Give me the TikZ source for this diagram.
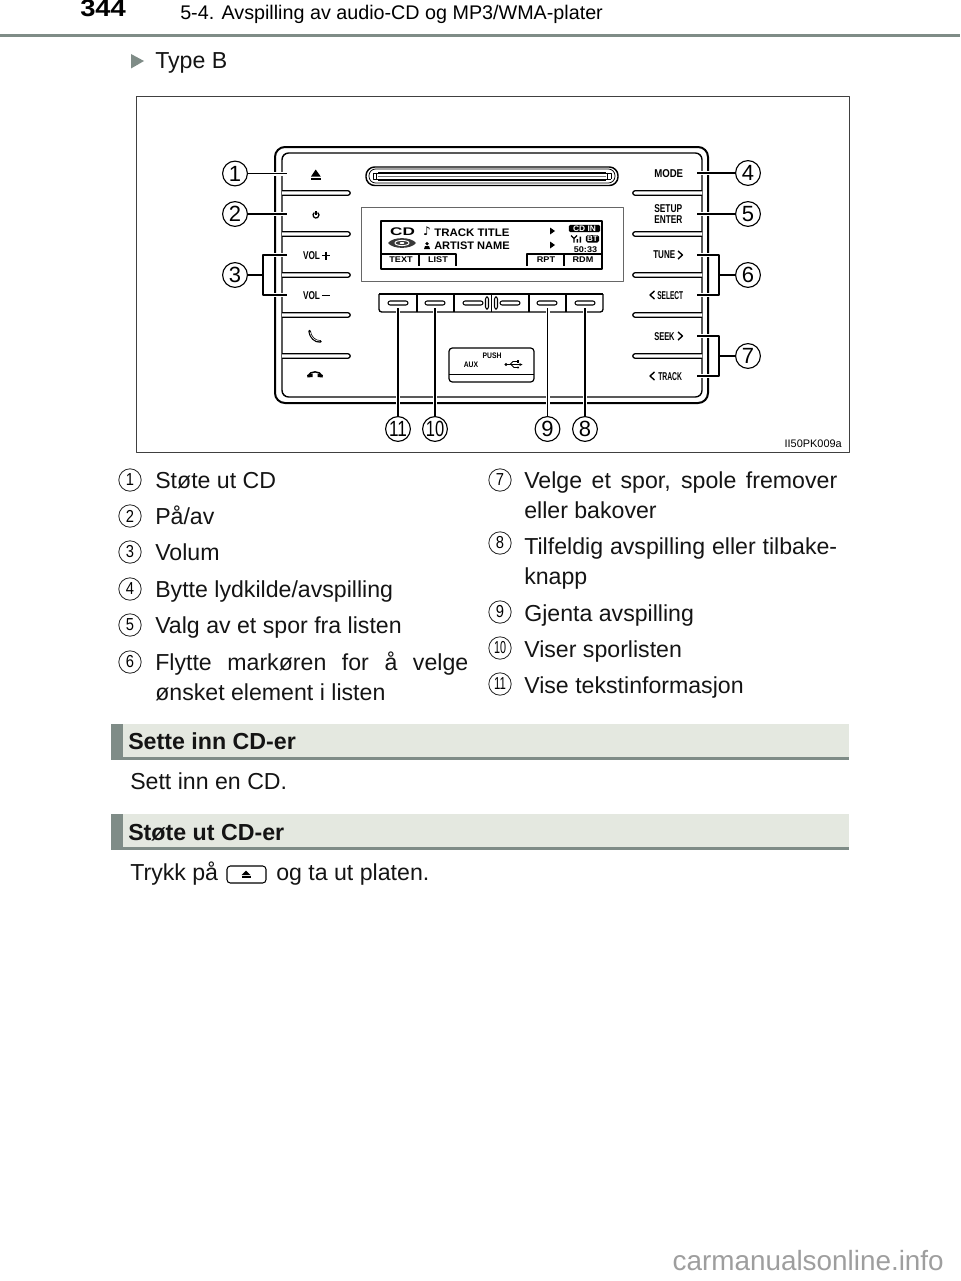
\documentclass[tikz,border=0pt]{standalone}
\usepackage{fontspec}
\setmainfont{Liberation Sans}
\newfontfamily\djv{DejaVu Sans}
\definecolor{bandgrey}{HTML}{7F8C87}
\definecolor{bandfill}{HTML}{E4E8E0}
\newcommand{\fs}[1]{\fontsize{#1}{#1}\selectfont}
\newcommand{\nar}[2]{\scalebox{#1}[1]{#2}}
\tikzset{
  body/.style={font=\fs{17.35},anchor=base west,inner sep=0pt,text=black!92},
  headt/.style={font=\fs{17.4}\bfseries,anchor=base west,inner sep=0pt,text=black!92},
  callout/.style={circle,draw=black,fill=white,line width=0.85pt,minimum size=18.6pt,inner sep=0pt,font=\fs{16.5}},
  listnum/.style={circle,draw=black!85,line width=0.6pt,minimum size=16.8pt,inner sep=0pt,font=\fs{13}},
  leader/.style={draw=black,line width=0.8pt,preaction={draw=white,line width=3pt}},
  plain/.style={draw=black,line width=0.8pt},
  panel/.style={font=\fs{8.5}\bfseries,inner sep=0pt},
  lcd/.style={font=\fs{6.2}\bfseries,inner sep=0pt},
  capsule/.style={draw=black,fill=white,line width=0.8pt,rounded corners=1.6pt}
}
\newcommand{\barL}[1]{\draw[line width=0.95pt,fill=white] (282,#1-2.2) -- (348,#1-2.2) arc (-90:90:2.2) -- (282,#1+2.2);}
\newcommand{\barR}[1]{\draw[line width=0.95pt,fill=white] (702,#1-2.2) -- (635,#1-2.2) arc (270:90:2.2) -- (702,#1+2.2);}
\newcommand{\bandbox}[1]{%
  \fill[bandfill] (112,#1) rectangle (849,#1+35);
  \fill[bandgrey] (111,#1) rectangle (123,#1+35);
  \fill[bandgrey] (111,#1+33) rectangle (849,#1+35.5);
}
\begin{document}
\begin{tikzpicture}[x=0.75pt,y=-0.75pt,line join=round]
\useasboundingbox (0,0) rectangle (960,1281);
% page header
\node[anchor=base west,inner sep=0pt,font=\fs{18}\bfseries] (pageno) at (80,17) {\nar{1.14}{344}};
\node[anchor=base west,inner sep=0pt,font=\fs{14.8}] (runhead) at (180,20) {5-4. Avspilling av audio-CD og MP3/WMA-plater};
\fill[bandgrey] (0,34) rectangle (960,37);
\fill[bandgrey] (131,54) -- (144,61) -- (131,68.5) -- cycle;
\node[body] (typeb) at (155,69) {Type B};
% figure frame
\draw[black!75,line width=0.75pt] (136,97) rectangle (849,452);
% radio body
\draw[line width=1.5pt,rounded corners=7.5pt] (275,147) rectangle (708,403);
\draw[line width=1.05pt,rounded corners=5pt] (282,153) rectangle (702,397);
% slot
\draw[line width=1.1pt,rounded corners=6.5pt] (366,167) rectangle (618,185.5);
\draw[line width=0.6pt,rounded corners=5pt] (369,169) rectangle (615,183);
\draw[line width=1pt] (378,172.7) -- (606,172.7) (378,180) -- (606,180);
\draw[line width=0.7pt] (373,173.5) -- (373,179) -- (611,179) (373,173.5) -- (611,173.5) -- (611,179);
\draw[line width=0.7pt] (376.5,172.7) -- (376.5,180) (607.5,172.7) -- (607.5,180);
\draw[black!55,line width=0.5pt] (378,176.5) -- (606,176.5);
% display
\draw[black!60,line width=0.55pt] (361,207) rectangle (623,281);
\draw[line width=0.95pt] (381,221) rectangle (602,269);
\draw[line width=0.95pt] (381,254) -- (456,254) -- (456,266);
\draw[line width=0.95pt] (419,254) -- (419,266);
\draw[line width=0.95pt] (602,254) -- (527,254) -- (527,266);
\draw[line width=0.95pt] (564,254) -- (564,266);
\node[font=\fs{8.3}\bfseries,inner sep=0pt] (lcdcd) at (402.5,232) {\nar{1.55}{CD}};
\fill[black!78] (388,243) .. controls (393,236.5) and (411,236.5) .. (416,243) .. controls (411,249.5) and (393,249.5) .. cycle;
\draw[white,line width=0.7pt] (402,243) ellipse (7 and 2.6);
\fill[white] (402,243) ellipse (2.5 and 1);
\node[font=\djv\bfseries\fs{9},inner sep=0pt] (lcdnote) at (427,231.5) {♪};
\fill (424,249) -- (425,246) -- (429,246) -- (430,249) -- cycle;
\fill (427,243.7) circle (1.8);
\node[anchor=base west,font=\fs{8.2}\bfseries,inner sep=0pt] (lcdtitle) at (434,236) {\nar{1.05}{TRACK TITLE}};
\node[anchor=base west,font=\fs{8.2}\bfseries,inner sep=0pt] (lcdartist) at (434,249) {\nar{1.01}{ARTIST NAME}};
\fill (550,227.5) -- (555,231) -- (550,234.5) -- cycle;
\fill (550,241.5) -- (555,245) -- (550,248.5) -- cycle;
\node[fill=black,text=white,rounded corners=1.2pt,font=\fs{6}\bfseries,inner sep=0pt,minimum width=23.5pt,minimum height=5.6pt,text height=4pt,text depth=0pt] (lcdcdin) at (584.5,228.5) {\nar{1.05}{CD IN}};
\node[fill=black,text=white,rounded corners=1.2pt,font=\fs{6}\bfseries,inner sep=0pt,minimum width=9.8pt,minimum height=5.6pt,text height=4pt,text depth=0pt] (lcdbt) at (592.5,238.8) {BT};
\draw[line width=0.9pt] (571,235.5) -- (574,238.5) -- (577,235.5) (574,238.5) -- (574,242.5);
\fill (576.5,239) rectangle (578,242.5) (579.5,236.5) rectangle (581,242.5);
\node[font=\fs{6.2}\bfseries,inner sep=0pt] (lcdtime) at (585.5,249.3) {\nar{1.1}{50:33}};
\node[lcd] (ltext) at (401,260) {\nar{1.1}{TEXT}};
\node[lcd] (llist) at (438,260) {\nar{1.1}{LIST}};
\node[lcd] (lrpt) at (546,260) {\nar{1.1}{RPT}};
\node[lcd] (lrdm) at (583,260) {\nar{1.1}{RDM}};
% side bars
\foreach \yy in {193,234,275,315,356}{\barL{\yy}\barR{\yy}}
% left buttons
\fill (311,176.5) -- (315.7,169.5) -- (320.7,176.5) -- cycle;
\fill (311,177.8) rectangle (320.7,180);
\draw[line width=0.95pt] (314.3,212.6) arc (-125:-415:3);
\draw[line width=0.95pt] (316,211) -- (316,215);
\node[panel] (vplus) at (311.5,256) {\nar{0.73}{VOL}};
\draw[line width=1.4pt] (322,255.5) -- (330,255.5) (326,251.5) -- (326,259.5);
\node[panel] (vminus) at (311.5,296) {\nar{0.73}{VOL}};
\draw[line width=1.4pt] (322,295.5) -- (330,295.5);
\draw[line width=1.9pt,line cap=round] (309.5,331) .. controls (310,337) and (315,342) .. (320.5,341.5);
\draw[white,line width=0.45pt,line cap=round] (310,332) .. controls (310.5,337) and (315,341.3) .. (319.5,341);
\draw[line width=1.1pt] (308,376) .. controls (309.5,370.5) and (320.5,370.5) .. (322,376);
\fill (307,375) -- (312.5,373.5) -- (312.5,377) -- (307.5,377.5) -- cycle;
\fill (323,375) -- (317.5,373.5) -- (317.5,377) -- (322.5,377.5) -- cycle;
% right buttons
\node[panel,anchor=west] (lmode) at (654,174) {\nar{0.85}{MODE}};
\node[panel,anchor=west] (lsetup) at (654,209) {\nar{0.74}{SETUP}};
\node[panel,anchor=west] (lenter) at (654,220) {\nar{0.73}{ENTER}};
\node[panel,anchor=west] (ltune) at (653,255) {\nar{0.71}{TUNE}};
\draw[line width=1.05pt] (678,251) -- (682.5,255) -- (678,259);
\node[panel,anchor=west] (lselect) at (657,295.5) {\nar{0.58}{SELECT}};
\draw[line width=1.05pt] (654.5,291) -- (650,295) -- (654.5,299);
\node[panel,anchor=west] (lseek) at (654,336.5) {\nar{0.66}{SEEK}};
\draw[line width=1.05pt] (678,332) -- (682.5,336) -- (678,340);
\node[panel,anchor=west] (ltrack) at (658,376.5) {\nar{0.6}{TRACK}};
\draw[line width=1.05pt] (654.5,372) -- (650,376) -- (654.5,380);
% bottom button row
\draw[line width=1pt] (379,294) -- (603,294);
\draw[line width=1pt,rounded corners=2pt] (379,294) -- (379,312) -- (603,312) -- (603,294);
\foreach \xx in {417,454,491.5,529,566}{\draw[line width=0.9pt] (\xx,294) -- (\xx,312);}
\foreach \xx in {398,435,473,510,547,585}{\draw[capsule] (\xx-10,301) rectangle (\xx+10,305);}
\draw[capsule] (485.5,297) rectangle (488.5,309);
\draw[capsule] (494.5,297) rectangle (497.5,309);
% USB box
\draw[line width=0.9pt,rounded corners=2.5pt] (449,348) rectangle (534,382);
\draw[line width=0.7pt] (449,374) -- (534,374);
\node[font=\fs{6}\bfseries,inner sep=0pt] (lpush) at (492,355.5) {\nar{0.85}{PUSH}};
\node[font=\fs{6}\bfseries,inner sep=0pt] (laux) at (471,365) {\nar{0.85}{AUX}};
\fill (506,364.5) circle (1.6);
\draw[line width=0.8pt] (506,364.5) -- (521,364.5);
\fill (522.5,364.5) -- (519.5,363) -- (519.5,366) -- cycle;
\draw[line width=0.7pt] (510,364.5) -- (513,361.5) -- (518,361.5);
\fill (517,360.3) rectangle (519.2,362.7);
\draw[line width=0.7pt] (511,364.5) -- (514,367.5) -- (517,367.5);
\fill (518,367.5) circle (1.1);
% callouts
\coordinate (e1) at (287,173.5); \coordinate (e2) at (287,214);
\coordinate (e3a) at (287,255); \coordinate (e3b) at (287,295);
\coordinate (j3a) at (263,255); \coordinate (j3b) at (263,295); \coordinate (j3) at (263,275);
\coordinate (e4) at (697,173); \coordinate (e5) at (697,214);
\coordinate (e6a) at (697,255); \coordinate (e6b) at (697,295);
\coordinate (j6a) at (719,255); \coordinate (j6b) at (719,295); \coordinate (j6) at (719,275);
\coordinate (e7a) at (697,336); \coordinate (e7b) at (697,376);
\coordinate (j7a) at (719,336); \coordinate (j7b) at (719,376); \coordinate (j7) at (719,356);
\coordinate (e8) at (585,308); \coordinate (e9) at (547.5,308);
\coordinate (e10) at (435,308); \coordinate (e11) at (398,308);
\node[callout] (c1) at (235,173.5) {1};
\node[callout] (c2) at (235,214) {2};
\node[callout] (c3) at (235,275) {3};
\node[callout] (c4) at (748,173) {4};
\node[callout] (c5) at (748,214) {5};
\node[callout] (c6) at (748,275) {6};
\node[callout] (c7) at (748,356) {7};
\node[callout] (c8) at (585,429) {8};
\node[callout] (c9) at (547.5,429) {9};
\node[callout] (c10) at (435,429) {\nar{0.75}{10}};
\node[callout] (c11) at (398,429) {\nar{0.78}{11}};
\path[leader] (c1) -- (e1);
\path[leader] (c2) -- (e2);
\path[leader] (e3a) -- (j3a) -- (j3b) -- (e3b);
\draw[plain] (c3) -- (j3);
\path[leader] (c4) -- (e4);
\path[leader] (c5) -- (e5);
\path[leader] (e6a) -- (j6a) -- (j6b) -- (e6b);
\draw[plain] (c6) -- (j6);
\path[leader] (e7a) -- (j7a) -- (j7b) -- (e7b);
\draw[plain] (c7) -- (j7);
\path[leader] (e8) -- (c8);
\path[leader] (e9) -- (c9);
\path[leader] (e10) -- (c10);
\path[leader] (e11) -- (c11);
\node[anchor=base east,inner sep=0pt,font=\fs{8.2}] (figid) at (842,447) {II50PK009a};
% lists
\node[listnum] (n1) at (130,480) {\nar{0.85}{1}};
\node[body] (t1) at (155,488) {Støte ut CD};
\node[listnum] (n2) at (130,516) {\nar{0.85}{2}};
\node[body] (t2) at (155,524) {På/av};
\node[listnum] (n3) at (130,552) {\nar{0.85}{3}};
\node[body] (t3) at (155,560) {Volum};
\node[listnum] (n4) at (130,589) {\nar{0.85}{4}};
\node[body] (t4) at (155,597) {Bytte lydkilde/avspilling};
\node[listnum] (n5) at (130,625) {\nar{0.85}{5}};
\node[body] (t5) at (155,633) {Valg av et spor fra listen};
\node[listnum] (n6) at (130,662) {\nar{0.85}{6}};
\node[body] (t6) at (155,670) {\makebox[234.75pt][s]{Flytte markøren for å velge}};
\node[body] (t6b) at (155,700) {ønsket element i listen};
\node[listnum] (n7) at (500,480) {\nar{0.85}{7}};
\node[body] (t7) at (524,488) {\makebox[234.75pt][s]{Velge et spor, spole fremover}};
\node[body] (t7b) at (524,518) {eller bakover};
\node[listnum] (n8) at (500,543) {\nar{0.85}{8}};
\node[body] (t8) at (524,554) {\makebox[234.75pt][s]{Tilfeldig avspilling eller tilbake-}};
\node[body] (t8b) at (524,584) {knapp};
\node[listnum] (n9) at (500,612) {\nar{0.85}{9}};
\node[body] (t9) at (524,621) {Gjenta avspilling};
\node[listnum] (n10) at (500,648) {\nar{0.62}{10}};
\node[body] (t10) at (524,657) {Viser sporlisten};
\node[listnum] (n11) at (500,684) {\nar{0.66}{11}};
\node[body] (t11) at (524,693) {Vise tekstinformasjon};
% sections
\bandbox{724}
\node[headt] (s1) at (128,749) {Sette inn CD-er};
\node[body] (b1) at (130,789) {Sett inn en CD.};
\bandbox{814}
\node[headt] (s2) at (128,840) {Støte ut CD-er};
\node[body] (b2) at (130,880) {Trykk på};
\draw[line width=0.8pt,rounded corners=2.5pt,fill=white] (227,866) rectangle (266,883);
\fill (241.5,875) -- (246,870.5) -- (250.5,875) -- cycle;
\fill (241.5,876) rectangle (250.5,877.5);
\node[body] (b2b) at (276,880) {og ta ut platen.};
% watermark
\node[anchor=base east,inner sep=0pt,font=\fs{20.9},text=black!38] (wm) at (944,1270) {carmanualsonline.info};
\end{tikzpicture}
\end{document}
